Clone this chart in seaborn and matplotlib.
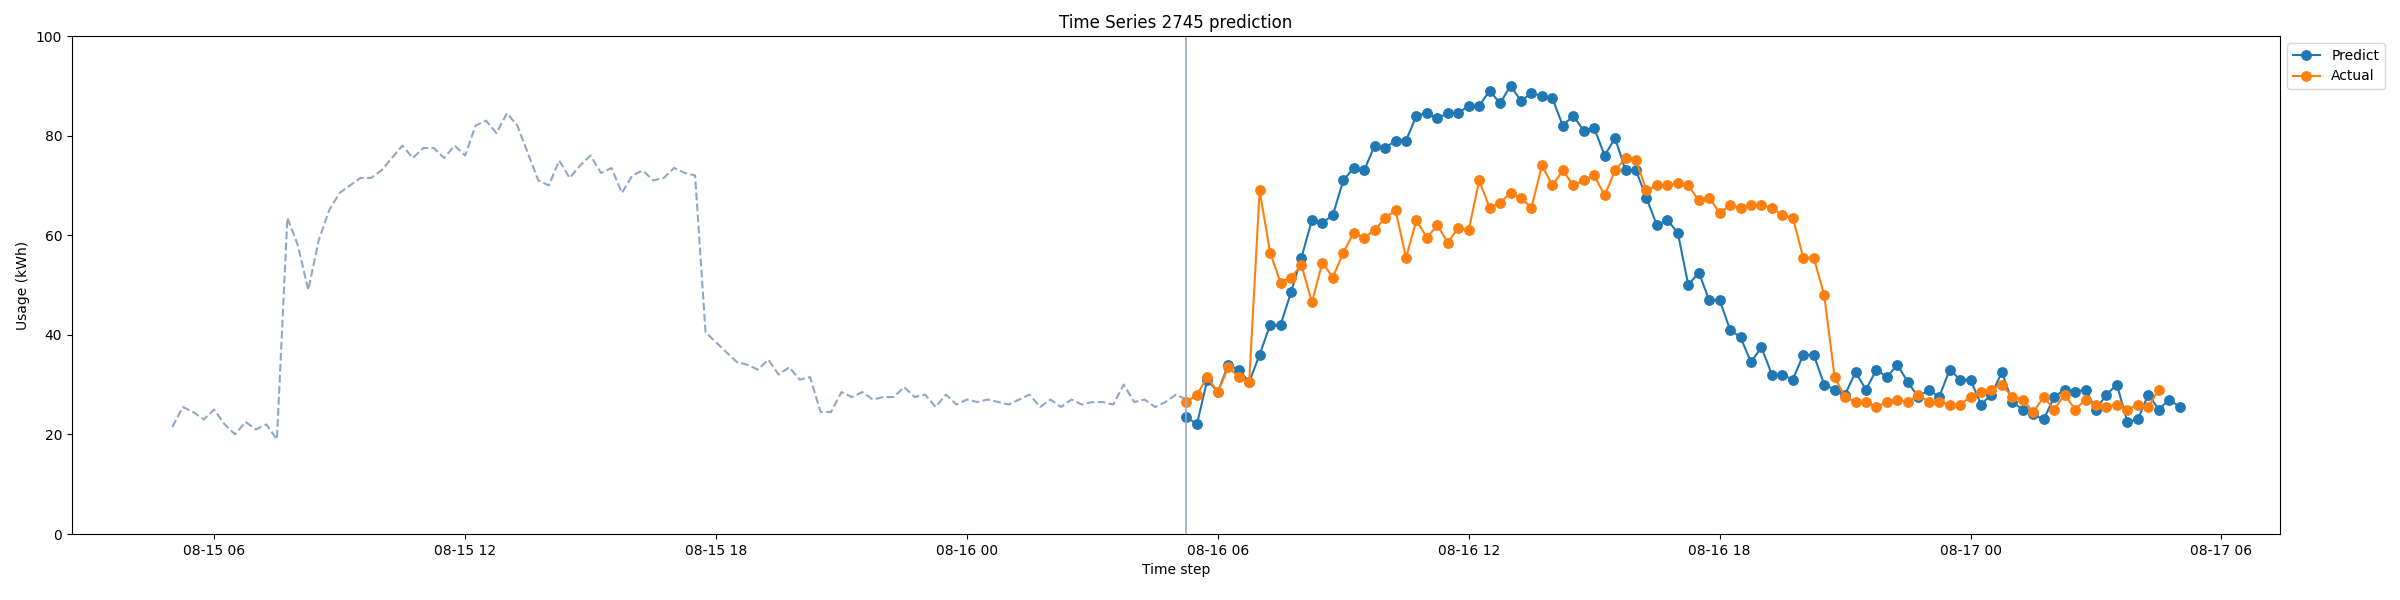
import numpy as np
import pandas as pd
import matplotlib
matplotlib.use("Agg")
import matplotlib.pyplot as plt
import matplotlib.dates as mdates
import seaborn as sns

history = [21.5, 25.5, 24.5, 23, 25, 22, 20, 22.5, 21, 22, 19, 63.5, 58, 49, 59, 65,
           68.5, 70, 71.5, 71.5, 73, 75.5, 78, 75.5, 77.5, 77.5, 75.5, 78, 76, 82, 83,
           80.5, 84.5, 82, 76.5, 71, 70, 75, 71.5, 74, 76, 72.5, 73.5, 68.5, 72, 73,
           71, 71.5, 73.5, 72.5, 72, 40.5, 38.5, 36.5, 34.5, 34, 33, 35, 32, 33.5, 31,
           31.5, 24.5, 24.5, 28.5, 27.5, 28.5, 27, 27.5, 27.5, 29.5, 27.5, 28, 25.5,
           28, 26, 27, 26.5, 27, 26.5, 26, 27, 28, 25.5, 27, 25.5, 27, 26, 26.5, 26.5,
           26, 30, 26.5, 27, 25.5, 26.5, 28, 27]
predict = [23.5, 22, 31, 28.5, 34, 33, 30.5, 36, 42, 42, 48.5, 55.5, 63, 62.5, 64, 71,
           73.5, 73, 78, 77.5, 79, 79, 84, 84.5, 83.5, 84.5, 84.5, 86, 86, 89, 86.5, 90,
           87, 88.5, 88, 87.5, 82, 84, 81, 81.5, 76, 79.5, 73, 73, 67.5, 62, 63, 60.5,
           50, 52.5, 47, 47, 41, 39.5, 34.5, 37.5, 32, 32, 31, 36, 36, 30, 29, 28, 32.5,
           29, 33, 31.5, 34, 30.5, 27.5, 29, 27.5, 33, 31, 31, 26, 28, 32.5, 26.5, 25,
           24, 23, 27.5, 29, 28.5, 29, 25, 28, 30, 22.5, 23, 28, 25, 27, 25.5]
actual = [26.5, 28, 31.5, 28.5, 33.5, 31.5, 30.5, 69, 56.5, 50.5, 51.5, 54, 46.5, 54.5,
          51.5, 56.5, 60.5, 59.5, 61, 63.5, 65, 55.5, 63, 59.5, 62, 58.5, 61.5, 61, 71,
          65.5, 66.5, 68.5, 67.5, 65.5, 74, 70, 73, 70, 71, 72, 68, 73, 75.5, 75, 69,
          70, 70, 70.5, 70, 67, 67.5, 64.5, 66, 65.5, 66, 66, 65.5, 64, 63.5, 55.5,
          55.5, 48, 31.5, 27.5, 26.5, 26.5, 25.5, 26.5, 27, 26.5, 28, 26.5, 26.5, 26,
          26, 27.5, 28.5, 29, 30, 27.5, 27, 24.5, 27.5, 25, 28, 25, 27, 26, 25.5, 26,
          25, 26, 25.5, 29]

start = pd.Timestamp("2024-08-16 05:15")
hist_t = pd.date_range(end=start, periods=len(history), freq="15min")
pred_t = pd.date_range(start=start, periods=len(predict), freq="15min")
act_t = pd.date_range(start=start, periods=len(actual), freq="15min")

fig, ax = plt.subplots(figsize=(24, 6), dpi=100)
sns.lineplot(x=hist_t, y=history, ax=ax, color="#8fa7c6", linestyle="--")
sns.lineplot(x=pred_t, y=predict, ax=ax, color="#1f77b4", marker="o", markersize=7,
             markeredgecolor="#1f77b4", label="Predict")
sns.lineplot(x=act_t, y=actual, ax=ax, color="#ff7f0e", marker="o", markersize=7,
             markeredgecolor="#ff7f0e", label="Actual")
ax.axvline(start, color="#9aa8cc", linewidth=1.2)

ax.set_ylim(0, 100)
ax.xaxis.set_major_formatter(mdates.DateFormatter("%m-%d %H"))
ax.set_title("Time Series 2745 prediction")
ax.set_xlabel("Time step")
ax.set_ylabel("Usage (kWh)")
ax.legend(loc="upper left", bbox_to_anchor=(1.0, 1.0))
plt.subplots_adjust(left=0.03, right=0.95, top=0.94, bottom=0.11)
plt.savefig("out.png")
